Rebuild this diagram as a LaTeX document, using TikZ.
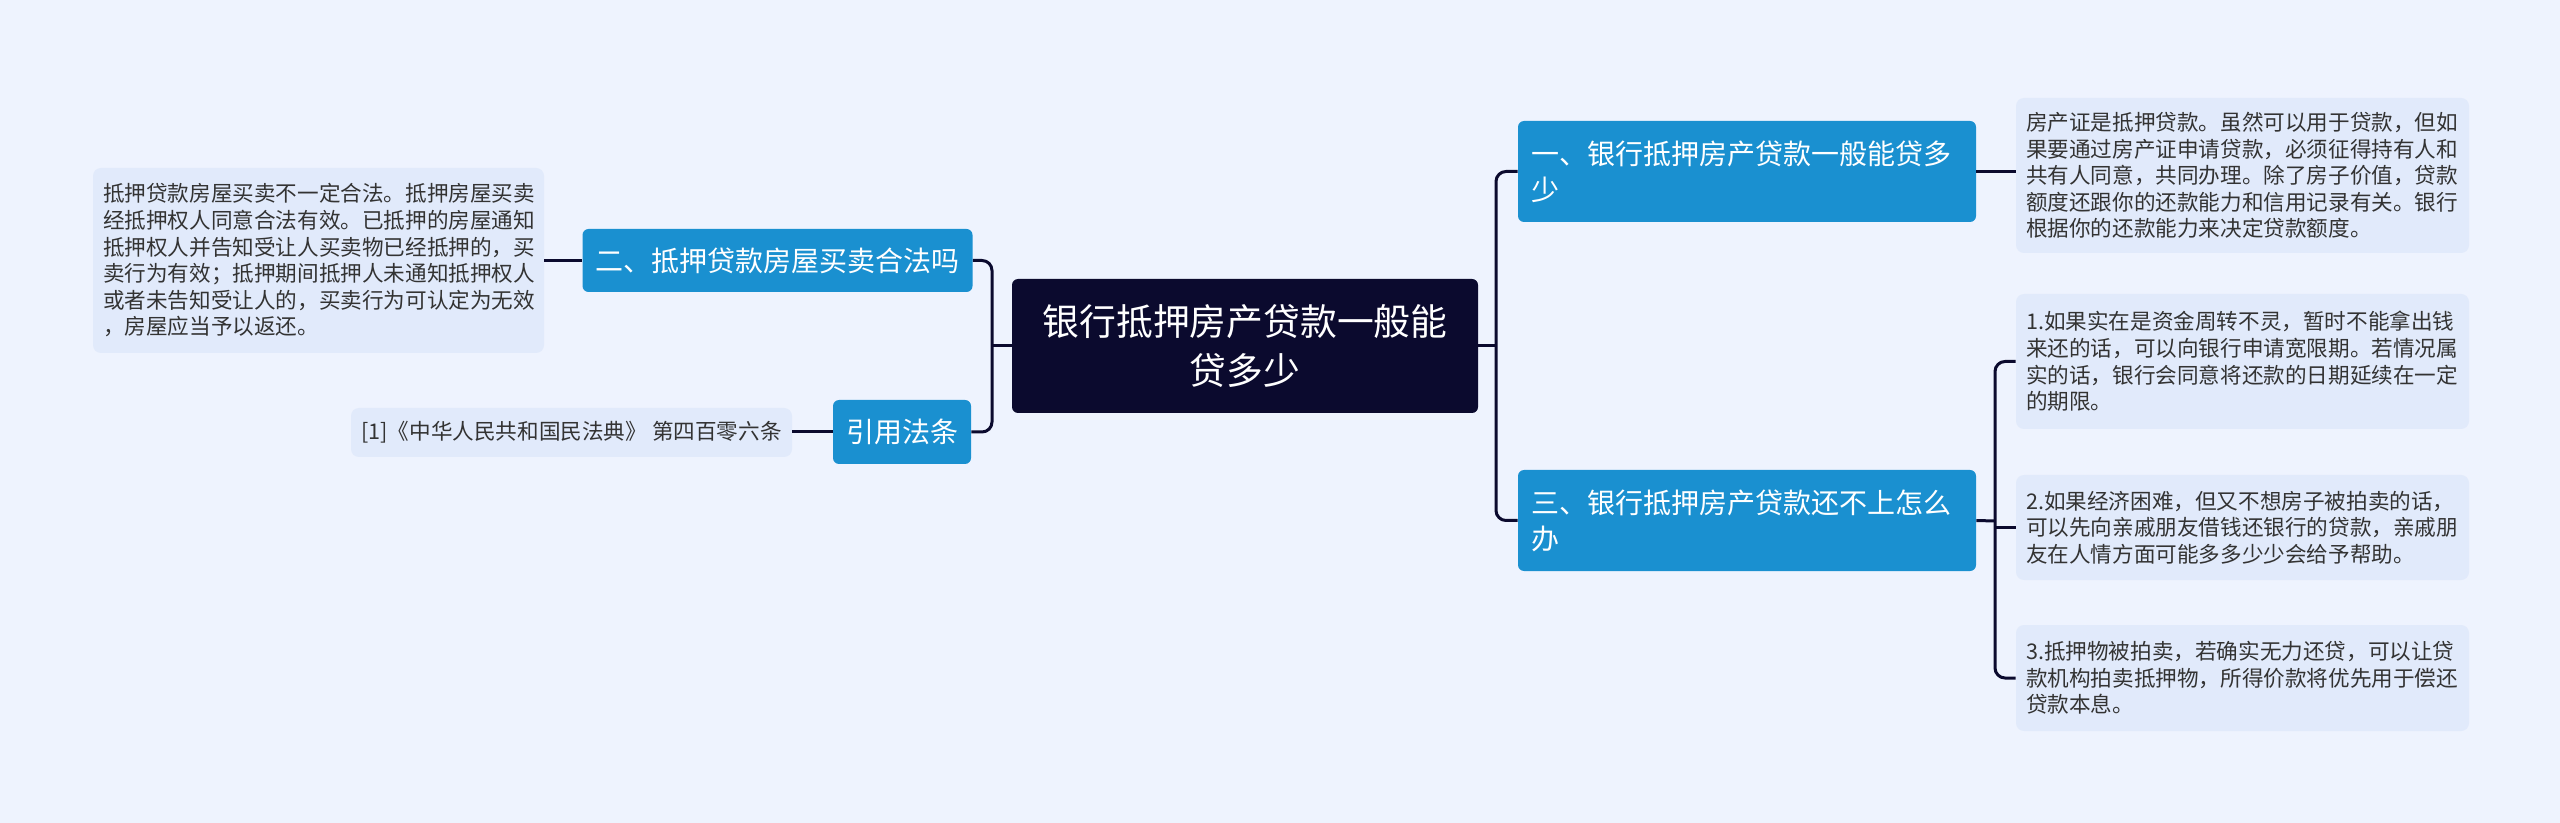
\documentclass[tikz,border=0pt]{standalone}
\usepackage{fontspec}
\setmainfont{Noto Sans CJK SC}
\usetikzlibrary{calc}
\definecolor{bg}{HTML}{EEF3FE}
\definecolor{navy}{HTML}{0B0A2E}
\definecolor{bblue}{HTML}{1A90D0}
\definecolor{leaffill}{HTML}{E1EAFB}
\definecolor{leaftext}{HTML}{333333}
\tikzset{
  centralbox/.style={fill=navy, text=white, rounded corners=3pt, align=center,
    font=\fontsize{18.4}{24.5}\selectfont, inner sep=0pt,
    minimum width=233pt, minimum height=67pt, text width=225pt},
  branchbox/.style={fill=bblue, text=white, rounded corners=3pt,
    font=\fontsize{14}{18}\selectfont, inner xsep=6.5pt, inner ysep=0pt},
  leafbox/.style={fill=leaffill, text=leaftext, rounded corners=4pt,
    font=\fontsize{10.8}{13.3}\selectfont, inner xsep=5pt, inner ysep=0pt},
  conn/.style={draw=navy, line width=1.5pt, rounded corners=5pt},
}
\begin{document}
\begin{tikzpicture}[x=0.5pt,y=-0.5pt]
\fill[bg] (0,0) rectangle (2560,823);
\useasboundingbox (0,0) rectangle (2560,823);

% central
\node[centralbox] (c) at (1245,346) {银行抵押房产贷款一般能\\贷多少};

% right branches
\node[branchbox, minimum width=229pt, minimum height=50.5pt, text width=216pt, align=left] (b1) at (1747,171.5)
  {一、银行抵押房产贷款一般能贷多\\少};
\node[branchbox, minimum width=229pt, minimum height=50.5pt, text width=216pt, align=left] (b3) at (1747,520.5)
  {三、银行抵押房产贷款还不上怎么\\办};

% left branches
\node[branchbox, minimum width=193.5pt, minimum height=31.5pt, align=center] (b2) at (777.5,260.5)
  {二、抵押贷款房屋买卖合法吗};
\node[branchbox, minimum width=69pt, minimum height=32pt, align=center] (ref) at (902,432)
  {引用法条};

% leaves
\node[leafbox, minimum width=225.5pt, minimum height=92.5pt, text width=215.5pt, align=left] (lL) at (318.5,260.5)
  {抵押贷款房屋买卖不一定合法。抵押房屋买卖\\经抵押权人同意合法有效。已抵押的房屋通知\\抵押权人并告知受让人买卖物已经抵押的，买\\卖行为有效；抵押期间抵押人未通知抵押权人\\或者未告知受让人的，买卖行为可认定为无效\\，房屋应当予以返还。};
\node[leafbox, minimum width=220.5pt, minimum height=24.5pt, align=center] (lref) at (571.5,432.5)
  {[1]《中华人民共和国民法典》 第四百零六条};
\node[leafbox, minimum width=226.5pt, minimum height=77.5pt, text width=216.5pt, align=left] (l0) at (2242.5,175.5)
  {房产证是抵押贷款。虽然可以用于贷款，但如\\果要通过房产证申请贷款，必须征得持有人和\\共有人同意，共同办理。除了房子价值，贷款\\额度还跟你的还款能力和信用记录有关。银行\\根据你的还款能力来决定贷款额度。};
\node[leafbox, minimum width=226.5pt, minimum height=67.5pt, text width=216.5pt, align=left] (l1) at (2242.5,361.5)
  {1.如果实在是资金周转不灵，暂时不能拿出钱\\来还的话，可以向银行申请宽限期。若情况属\\实的话，银行会同意将还款的日期延续在一定\\的期限。};
\node[leafbox, minimum width=226.5pt, minimum height=52.5pt, text width=216.5pt, align=left] (l2) at (2242.5,527.5)
  {2.如果经济困难，但又不想房子被拍卖的话，\\可以先向亲戚朋友借钱还银行的贷款，亲戚朋\\友在人情方面可能多多少少会给予帮助。};
\node[leafbox, minimum width=226.5pt, minimum height=53pt, text width=216.5pt, align=left] (l3) at (2242.5,678)
  {3.抵押物被拍卖，若确实无力还贷，可以让贷\\款机构拍卖抵押物，所得价款将优先用于偿还\\贷款本息。};

% junction coordinates
\coordinate (rj) at (1496,346);
\coordinate (lj) at (992,346);
\coordinate (rj3) at (1995,521);

% connectors
\draw[conn] (c.east) -- (rj);
\draw[conn] (b1.west) -| (rj) |- (b3.west);
\draw[conn] (c.west) -- (lj);
\draw[conn] (b2.east) -| (lj) |- (ref.east);
\draw[conn] (b2.west) -- (lL.east |- b2.west);
\draw[conn] (ref.west) -- (lref.east |- ref.west);
\draw[conn] (b1.east) -- (l0.west |- b1.east);
\draw[conn] (b3.east) -- (rj3);
\draw[conn] (l1.west) -| (rj3) |- (l3.west);
\draw[conn] (l2.west) -- (l2.west -| rj3);
\end{tikzpicture}
\end{document}
